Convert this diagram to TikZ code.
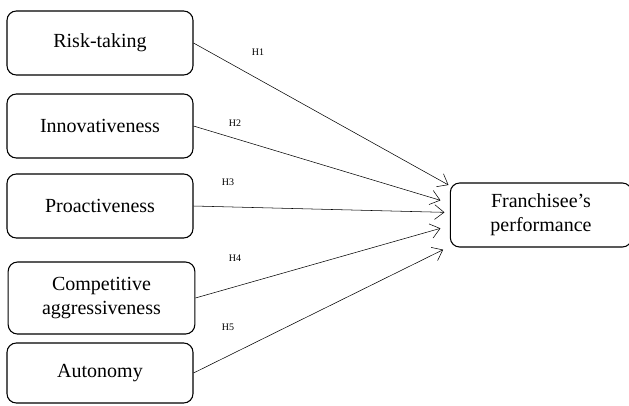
\documentclass[tikz,border=0pt]{standalone}
\usepackage{fontspec}
\setmainfont{Liberation Serif}
\usetikzlibrary{arrows.meta}
\tikzset{
	factor/.style={%
		draw, thick, rounded corners=7pt,
		minimum width=#1,
		minimum height=48pt,
		align=center,
		font=\fontsize{15}{18}\selectfont
	},
	factor/.default=139.5pt,
	hyp/.style={font=\fontsize{7.5}{9}\selectfont},
	>={Straight Barb[length=7pt,width=11pt]}
}
\begin{document}
\begin{tikzpicture}[x=0.75pt,y=-0.75pt]
		% fixes the page to the reference size
		\useasboundingbox (0,0) rectangle (629,405);
		
		% the five dimensions
		\node[factor] (risk) at (100,43) {Risk-taking};
		\node[factor] (innov) at (100,126) {Innovativeness};
		\node[factor] (proact) at (100,206) {Proactiveness};
		\node[factor=140pt,minimum height=54pt] (comp) at (101.5,298) {Competitive\\aggressiveness};
		\node[factor,minimum height=45pt] (auto) at (100,373) {Autonomy};
		
		% outcome
		\node[factor=136pt] (perf) at (541,215) {Franchisee's\\performance};
		
		%hypothesis labels
		\node[hyp] (h1) at (258,52) {H1};
		\node[hyp] (h2) at (235,123) {H2};
		\node[hyp] (h3) at (228,182) {H3};
		\node[hyp] (h4) at (235,258) {H4};
		\node[hyp] (h5) at (228,327) {H5};
		
		%arrows to the outcome
		\draw[->,thin] (risk.east)--([xshift=-1pt,yshift=22.5pt]perf.west);
		\draw[->,thin] (innov.east)--([xshift=-7pt,yshift=11pt]perf.west);
		\draw[->,thin] (proact.east)--([xshift=-4pt,yshift=2pt]perf.west);
		\draw[->,thin] (comp.east)--([xshift=-7pt,yshift=-10pt]perf.west);
		\draw[->,thin] (auto.east)--([xshift=-5pt,yshift=-26pt]perf.west);
		
\end{tikzpicture}
\end{document}
